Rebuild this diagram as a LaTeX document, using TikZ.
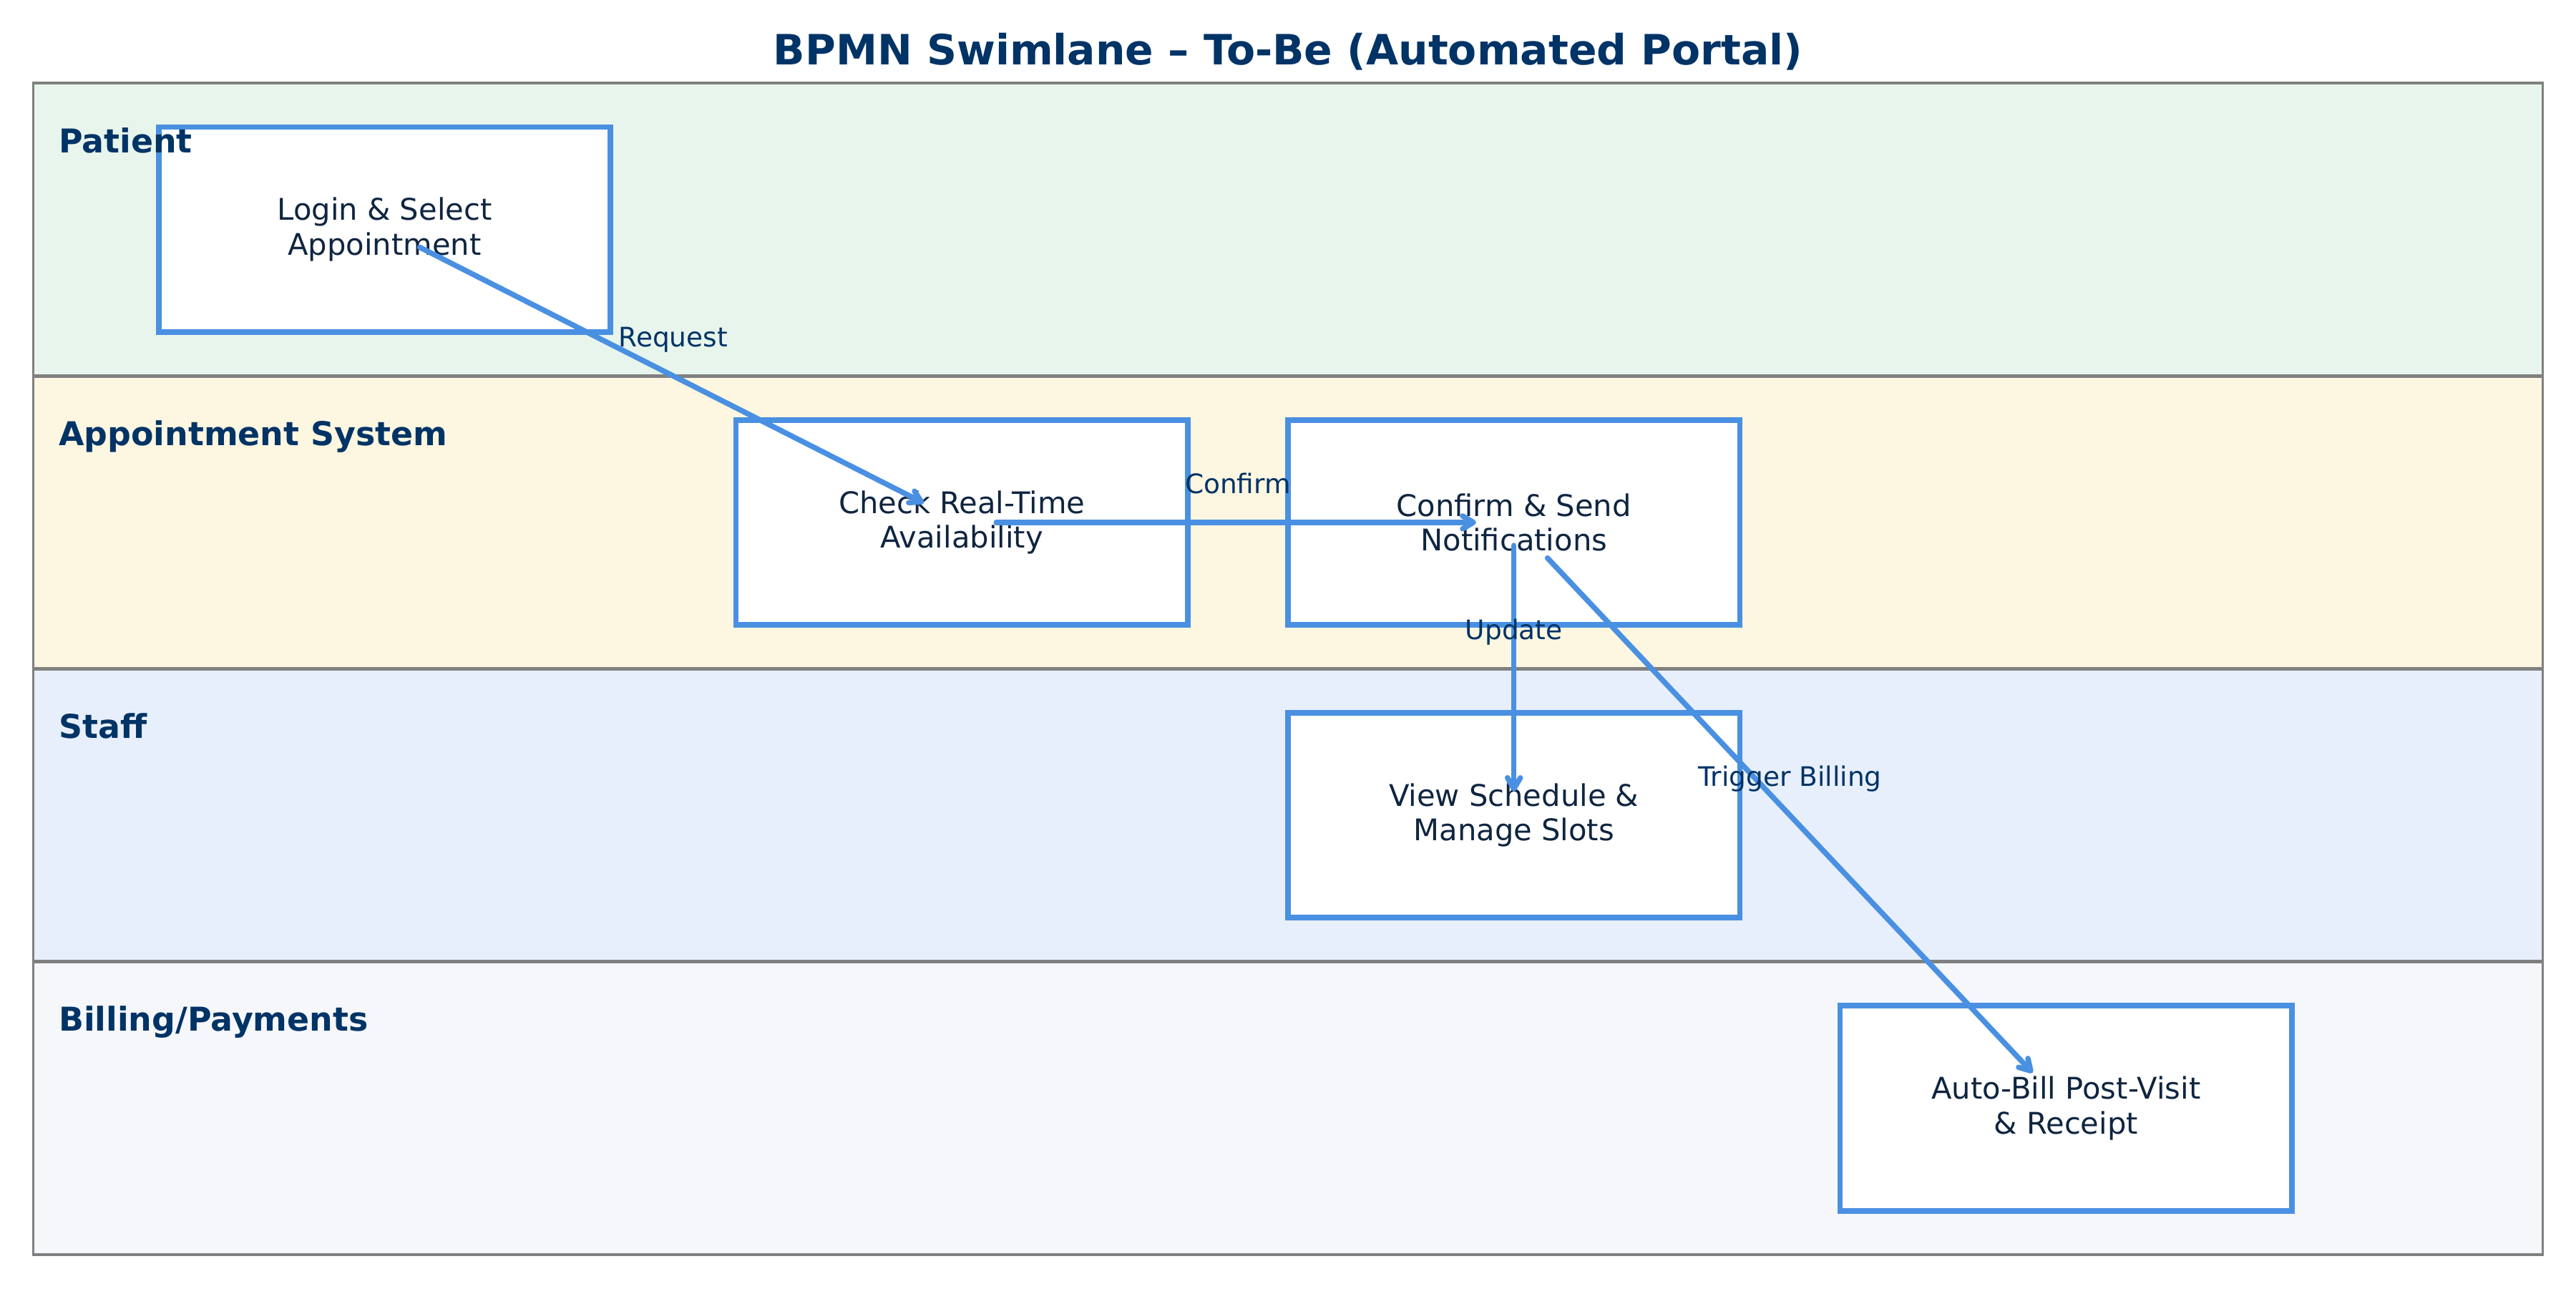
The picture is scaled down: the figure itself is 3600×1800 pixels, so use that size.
\documentclass[tikz,border=0pt]{standalone}
\usepackage{fontspec}
\setmainfont{DejaVu Sans}
\usetikzlibrary{arrows.meta}
\definecolor{navy}{HTML}{003366}
\definecolor{boxtext}{HTML}{0F2540}
\definecolor{edgeblue}{HTML}{4A90E2}
\definecolor{lanegray}{HTML}{808080}
\definecolor{laneA}{HTML}{E8F5EC}
\definecolor{laneB}{HTML}{FDF6E0}
\definecolor{laneC}{HTML}{E8EFFC}
\definecolor{laneD}{HTML}{F5F7FB}
\tikzset{
  framebox/.style={draw=lanegray, line width=1.1pt},
  divider/.style={draw=lanegray, line width=1.8pt},
  lanelabel/.style={anchor=base west, inner sep=0pt, text=navy, font=\fontsize{16.5}{20}\selectfont\bfseries},
  task/.style={draw=edgeblue, line width=2.8pt, fill=white, rectangle, inner sep=0pt,
    minimum width=227.3pt, minimum height=103.1pt, align=center, text=boxtext,
    font=\fontsize{15}{17.5}\selectfont, execute at begin node={\rule{0pt}{13.6pt}}},
  flow/.style={draw=edgeblue, line width=2.7pt, line cap=round, line join=round,
    -{Straight Barb[length=5.5pt, width=6.5pt, line cap=round, line join=round]}},
  elabel/.style={anchor=base, inner sep=0pt, yshift=14.6pt, text=navy, font=\fontsize{13.5}{16}\selectfont},
}
\begin{document}
\begin{tikzpicture}[x=0.36pt, y=-0.36pt]
\useasboundingbox (0,0) rectangle (3600,1800);
\fill[white] (0,0) rectangle (3600,1800);
% title
\node[anchor=base, inner sep=0pt, text=navy, font=\fontsize{21}{25}\selectfont\bfseries] (title) at (1800,90.7) {BPMN Swimlane – To-Be (Automated Portal)};
% lanes
\fill[laneA] (46.5,116) rectangle (3553.5,525.25);
\fill[laneB] (46.5,525.25) rectangle (3553.5,934.5);
\fill[laneC] (46.5,934.5) rectangle (3553.5,1343.75);
\fill[laneD] (46.5,1343.75) rectangle (3553.5,1753);
\draw[divider] (46.5,525.25) -- (3553.5,525.25);
\draw[divider] (46.5,934.5) -- (3553.5,934.5);
\draw[divider] (46.5,1343.75) -- (3553.5,1343.75);
\draw[framebox] (46.5,116) rectangle (3553.5,1753);
% tasks
\node[task] (login) at (537.5,320.6) {Login \& Select\\Appointment};
\node[task] (check) at (1344.2,729.9) {Check Real-Time\\Availability};
\node[task] (confirm) at (2115.7,729.9) {Confirm \& Send\\Notifications};
\node[task] (view) at (2115.7,1139.1) {View Schedule \&\\Manage Slots};
\node[task] (bill) at (2887.2,1548.4) {Auto-Bill Post-Visit\\\& Receipt};
% lane labels (drawn above the tasks)
\node[lanelabel] (lp) at (81.6,213) {Patient};
\node[lanelabel] (la) at (81.6,622.25) {Appointment System};
\node[lanelabel] (ls) at (81.6,1031.5) {Staff};
\node[lanelabel] (lb) at (81.6,1440.75) {Billing/Payments};
% flows
\draw[flow, shorten <=19.8pt, shorten >=21.5pt] (login.center) -- (check.center);
\draw[flow, shorten <=17.3pt, shorten >=19pt] (check.center) -- (confirm.center);
\draw[flow, shorten <=11.6pt, shorten >=12pt] (confirm.center) -- (view.center);
\draw[flow, shorten <=24.6pt, shorten >=24.5pt] (confirm.center) -- (bill.center);
% flow labels
\path (login.center) -- node[elabel] (l1) {Request} (check.center);
\path (check.center) -- node[elabel] (l2) {Confirm} (confirm.center);
\path (confirm.center) -- node[elabel] (l3) {Update} (view.center);
\path (confirm.center) -- node[elabel] (l4) {Trigger Billing} (bill.center);
\end{tikzpicture}
\end{document}
